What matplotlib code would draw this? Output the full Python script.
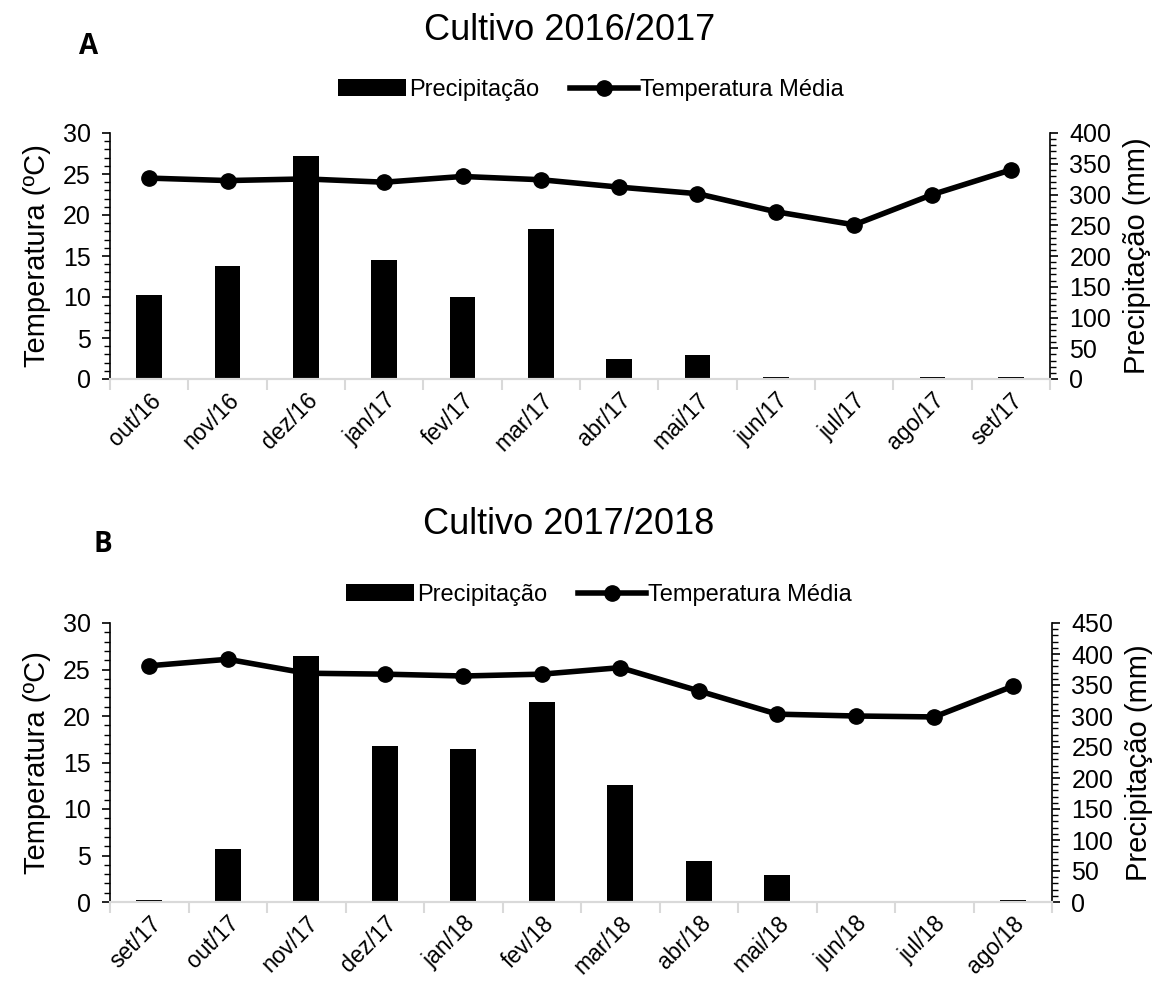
import matplotlib
matplotlib.use('Agg')
import matplotlib.pyplot as plt
from matplotlib.patches import Patch
from matplotlib.lines import Line2D
from matplotlib.ticker import MultipleLocator, FixedLocator
import numpy as np

plt.rcParams['font.family'] = ['Liberation Sans', 'DejaVu Sans']

# --- dados ---
meses_a = ['out/16', 'nov/16', 'dez/16', 'jan/17', 'fev/17', 'mar/17',
           'abr/17', 'mai/17', 'jun/17', 'jul/17', 'ago/17', 'set/17']
temp_a = [24.5, 24.2, 24.4, 24.0, 24.7, 24.3, 23.4, 22.6, 20.4, 18.8, 22.5, 25.5]
prec_a = [137, 184, 363, 193, 133, 244, 33, 39, 3, 0, 3, 3]

meses_b = ['set/17', 'out/17', 'nov/17', 'dez/17', 'jan/18', 'fev/18',
           'mar/18', 'abr/18', 'mai/18', 'jun/18', 'jul/18', 'ago/18']
temp_b = [25.4, 26.1, 24.6, 24.5, 24.3, 24.5, 25.2, 22.7, 20.2, 20.0, 19.9, 23.2]
prec_b = [3, 86, 396, 252, 246, 323, 188, 66, 43, 1, 0, 4]

W, H = 1162, 983
fig = plt.figure(figsize=(W / 100, H / 100), dpi=100)
GREY = '#d9d9d9'


def painel(rect, meses, temp, prec, pmax, letra, letra_xy, titulo, titulo_xy, leg_xy):
    l, t, r, b = rect
    ax = fig.add_axes([l / W, 1 - b / H, (r - l) / W, (b - t) / H])
    ax2 = ax.twinx()
    x = np.arange(len(meses))

    ax2.bar(x, prec, width=0.33, color='black', edgecolor='none')
    ax.plot(x, temp, color='black', lw=4, marker='o', ms=11, zorder=5)

    ax.set_zorder(ax2.get_zorder() + 1)
    ax.patch.set_visible(False)

    ax.set_xlim(-0.5, len(meses) - 0.5)
    ax.set_ylim(0, 30)
    ax2.set_ylim(0, pmax)

    ax.yaxis.set_major_locator(MultipleLocator(5))
    ax.yaxis.set_minor_locator(MultipleLocator(1))
    ax2.yaxis.set_major_locator(MultipleLocator(50))
    ax2.yaxis.set_minor_locator(MultipleLocator(10))

    ax.set_xticks(x)
    ax.set_xticklabels(meses, rotation=45, ha='right', rotation_mode='anchor', fontsize=16.5)
    ax.tick_params(axis='x', which='major', length=0, pad=7)
    ax.xaxis.set_minor_locator(FixedLocator(np.arange(-0.5, len(meses), 1.0)))
    ax.tick_params(axis='x', which='minor', length=8, width=1.5, color=GREY)

    ax.tick_params(axis='y', which='major', length=6, width=1.2, labelsize=18, pad=8)
    ax.tick_params(axis='y', which='minor', length=4, width=1)
    ax2.tick_params(axis='y', which='major', length=6, width=1.2, labelsize=18, pad=8)
    ax2.tick_params(axis='y', which='minor', length=4, width=1)

    for a in (ax, ax2):
        a.spines['top'].set_visible(False)
        a.spines['bottom'].set_color(GREY)
        a.spines['bottom'].set_linewidth(1.5)
    ax.spines['right'].set_visible(False)
    ax2.spines['left'].set_visible(False)
    ax.spines['left'].set_linewidth(1.2)
    ax2.spines['right'].set_linewidth(1.2)

    ax.set_ylabel('Temperatura (ºC)', fontsize=21, labelpad=8)
    ax2.set_ylabel('Precipitação (mm)', fontsize=21, labelpad=8)

    fig.text(titulo_xy[0] / W, 1 - titulo_xy[1] / H, titulo, fontsize=26,
             ha='center', va='center')
    fig.text(letra_xy[0] / W, 1 - letra_xy[1] / H, letra, fontsize=20,
             fontweight='bold', family='Open Sans', ha='center', va='center')

    handles = [Patch(facecolor='black', edgecolor='none'),
               Line2D([], [], color='black', lw=4, marker='o', ms=11)]
    fig.legend(handles, ['Precipitação', 'Temperatura Média'], loc='center',
               bbox_to_anchor=(leg_xy[0] / W, 1 - leg_xy[1] / H), ncol=2,
               frameon=False, fontsize=17, handlelength=2.9, handletextpad=0.1,
               columnspacing=1.3)
    return ax, ax2


painel((110, 133, 1050, 379), meses_a, temp_a, prec_a, 400,
       'A', (89, 47), 'Cultivo 2016/2017', (570, 30), (591, 90))
painel((110, 623, 1052, 902), meses_b, temp_b, prec_b, 450,
       'B', (103, 545), 'Cultivo 2017/2018', (569, 525), (599, 595))

fig.savefig('out.png', dpi=100)
